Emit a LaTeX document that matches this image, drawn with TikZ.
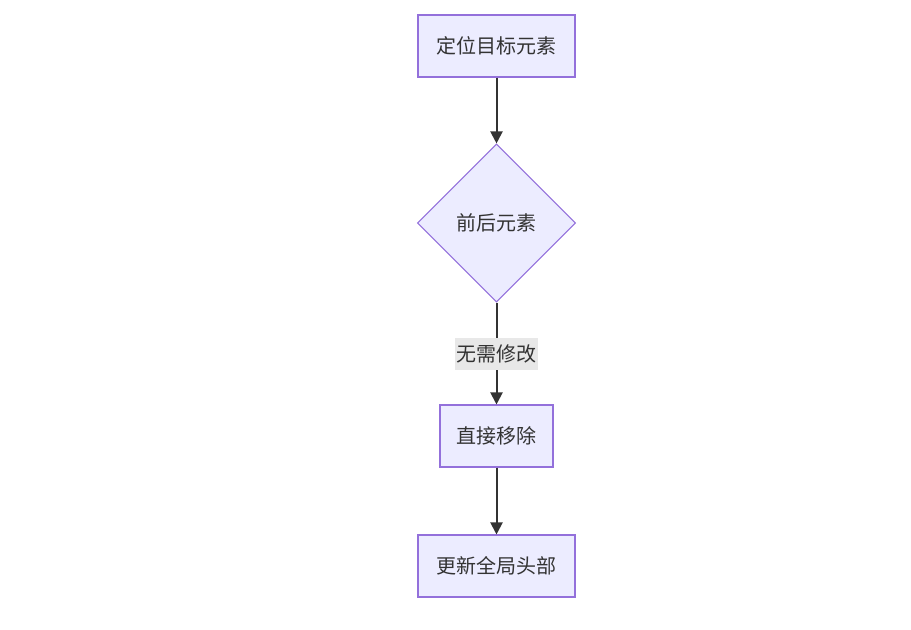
\documentclass[tikz,border=0pt]{standalone}
\usepackage{fontspec}
\setmainfont{Noto Sans CJK SC}
\usetikzlibrary{shapes.geometric,arrows.meta}
\definecolor{nf}{HTML}{ECECFF}
\definecolor{ns}{HTML}{9370DB}
\definecolor{tx}{HTML}{333333}
\definecolor{lb}{HTML}{E8E8E8}
\begin{document}
\begin{tikzpicture}[x=0.75pt,y=-0.75pt,
  box/.style={draw=ns,fill=nf,line width=0.8pt,text=tx,font=\fontsize{15}{18}\selectfont,minimum height=46.5pt,inner sep=0pt},
  dia/.style={diamond,draw=ns,fill=nf,line width=0.8pt,text=tx,font=\fontsize{15}{18}\selectfont,minimum width=118.5pt,minimum height=118.5pt,inner sep=0pt},
  arr/.style={draw=tx,line width=1.5pt,-{Triangle[length=9pt,width=9pt]}},
  lab/.style={fill=lb,text=tx,font=\fontsize{15}{18}\selectfont,inner sep=1pt,minimum height=24pt}]
\useasboundingbox (0,0) rectangle (911,629);
\node[box,minimum width=117.75pt] (a) at (496.5,46) {定位目标元素};
\node[dia] (b) at (496.5,223) {前后元素};
\node[box,minimum width=84.75pt] (c) at (496.5,436) {直接移除};
\node[box,minimum width=117.75pt] (d) at (496.5,566) {更新全局头部};
\draw[arr] (a) -- (b);
\draw[arr] (b) -- node[lab] (l) {无需修改} (c);
\draw[arr] (c) -- (d);
\end{tikzpicture}
\end{document}
